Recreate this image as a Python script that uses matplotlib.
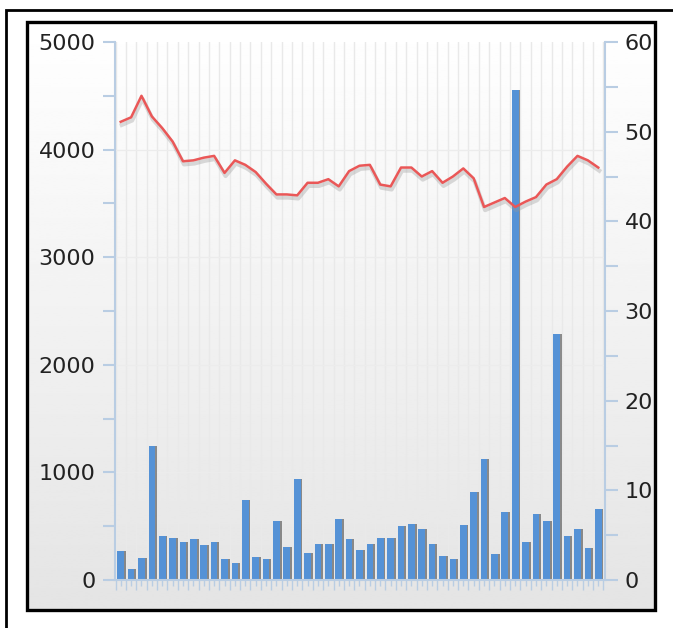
import numpy as np
import matplotlib.pyplot as plt
from matplotlib.patches import Rectangle
from matplotlib.ticker import MultipleLocator

# Data (47 periods)
bar_values = [272, 99, 201, 1245, 409, 387, 356, 378, 325, 356,
              192, 155, 743, 217, 192, 551, 303, 935, 248, 334,
              334, 563, 378, 279, 334, 387, 393, 502, 520, 471,
              331, 223, 192, 511, 820, 1124, 238, 635, 4550, 356,
              610, 551, 2290, 409, 474, 294, 659]
line_values = [51.1, 51.6, 54.0, 51.7, 50.4, 48.9, 46.7, 46.8, 47.1, 47.3,
               45.4, 46.8, 46.3, 45.5, 44.2, 43.0, 43.0, 42.9, 44.3, 44.3,
               44.7, 43.9, 45.6, 46.2, 46.3, 44.1, 43.9, 46.0, 46.0, 45.0,
               45.6, 44.3, 45.0, 45.9, 44.8, 41.6, 42.1, 42.6, 41.6, 42.2,
               42.7, 44.1, 44.7, 46.1, 47.3, 46.8, 46.0]
left_ticks = [0, 1000, 2000, 3000, 4000, 5000]
right_ticks = [0, 10, 20, 30, 40, 50, 60]

W, H = 673, 628
fig = plt.figure(figsize=(W / 100, H / 100), dpi=100)
fig.patch.set_facecolor('white')

# gradient background inside the inner frame
bg = fig.add_axes([27 / W, 1 - 610 / H, (655 - 27) / W, (610 - 22) / H], zorder=0)
grad = np.linspace(1.0, 0.895, 256).reshape(-1, 1)
bg.imshow(grad, aspect='auto', cmap='gray', vmin=0, vmax=1, extent=[0, 1, 0, 1])
bg.set_axis_off()

# frames
fig.add_artist(Rectangle((6 / W, -0.1), 2, 1.1 - 10 / H, transform=fig.transFigure,
                         fill=False, edgecolor='black', linewidth=2.0, zorder=5))
fig.add_artist(Rectangle((27 / W, 1 - 610 / H), (655 - 27) / W, (610 - 22) / H,
                         transform=fig.transFigure, fill=False, edgecolor='black',
                         linewidth=2.4, zorder=5))

ax = fig.add_axes([115 / W, 1 - 580 / H, (605 - 115) / W, (580 - 42) / H], zorder=2)
ax.patch.set_alpha(0)
ax2 = ax.twinx()
ax2.patch.set_alpha(0)

x = np.arange(len(bar_values))
axis_col = '#b9cde3'
text_col = '#222222'

# vertical grid lines between categories, faint horizontal at majors
for b in np.arange(-0.5, len(x), 1.0):
    ax.axvline(b, color='#e9e9e9', linewidth=1, zorder=0)
for t in left_ticks[1:-1]:
    ax.axhline(t, color='#ececec', linewidth=1, zorder=0)

# bars with a little drop shadow
ax.bar(x + 0.2, bar_values, width=0.6, color='#3a3a3a', alpha=0.55, zorder=1)
ax.bar(x, bar_values, width=0.64, color='#5592d6', zorder=2)

ax.set_xlim(-0.55, len(x) - 0.35)
ax.set_ylim(0, 5000)
ax2.set_ylim(0, 60)

# line with soft shadow
ax2.plot(x + 0.1, np.array(line_values) - 0.35, color='#999999', alpha=0.35,
         linewidth=3, zorder=3)
ax2.plot(x, line_values, color='#ea5757', linewidth=1.8, zorder=4)

ax.set_yticks(left_ticks)
ax.yaxis.set_minor_locator(MultipleLocator(500))
ax2.set_yticks(right_ticks)
ax2.yaxis.set_minor_locator(MultipleLocator(5))
ax.set_xticks(np.arange(-0.5, len(x), 1.0))
ax.set_xticks(x, minor=True)
ax.set_xticklabels([])

for a in (ax, ax2):
    for s in a.spines.values():
        s.set_visible(False)
ax.spines['left'].set_visible(True)
ax.spines['left'].set_color(axis_col)
ax.spines['left'].set_linewidth(1.5)
ax.spines['bottom'].set_visible(True)
ax.spines['bottom'].set_color(axis_col)
ax.spines['bottom'].set_linewidth(1.5)
ax2.spines['right'].set_visible(True)
ax2.spines['right'].set_color(axis_col)
ax2.spines['right'].set_linewidth(1.5)

ax.tick_params(axis='y', which='major', length=9, width=1.5, color=axis_col,
               labelsize=16, labelcolor=text_col, pad=5)
ax.tick_params(axis='y', which='minor', length=9, width=1.5, color=axis_col)
ax2.tick_params(axis='y', which='major', length=9, width=1.5, color=axis_col,
                labelsize=16, labelcolor=text_col, pad=5)
ax2.tick_params(axis='y', which='minor', length=9, width=1.5, color=axis_col)
ax.tick_params(axis='x', which='major', length=7, width=1, color=axis_col)
ax.tick_params(axis='x', which='minor', length=4, width=1, color=axis_col)

fig.savefig('out.png', dpi=100)
